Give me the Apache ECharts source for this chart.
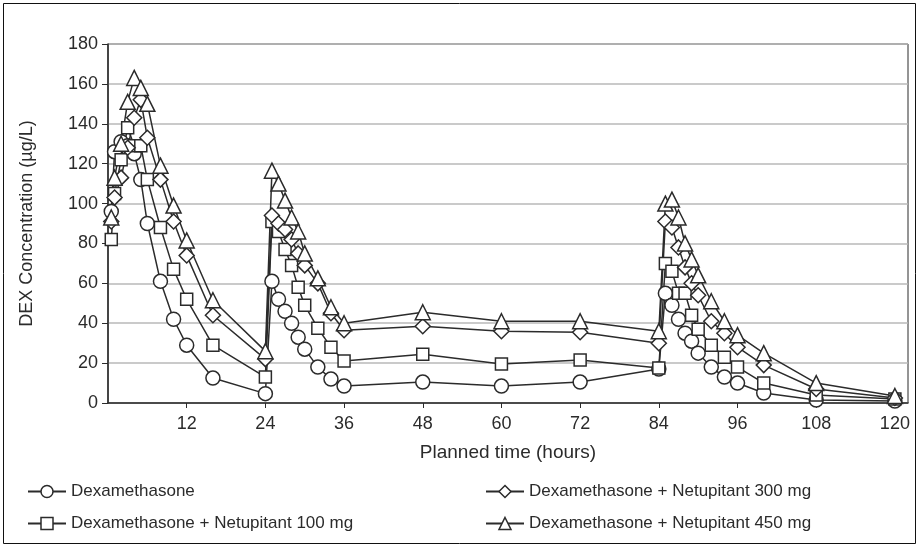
<!DOCTYPE html>
<html>
<head>
<meta charset="utf-8">
<script src="https://cdn.jsdelivr.net/npm/echarts@6/dist/echarts.min.js"></script>
<style>
  html, body { margin: 0; padding: 0; background: #fff; }
  #chart { width: 920px; height: 547px; }
</style>
</head>
<body>
<div id="chart"></div>
<script>
// sampling times (hours)
const hours = [
  0.5, 1, 2, 3, 4, 5, 6, 8, 10, 12, 16, 24,
  25, 26, 27, 28, 29, 30, 32, 34, 36,
  48, 60, 72, 84,
  85, 86, 87, 88, 89, 90, 92, 94, 96, 100, 108, 120
]

// DEX concentration (ug/L)
const dexAlone = [
  96, 126, 131, 129, 125, 112, 90, 61, 42, 29, 12.5, 4.7,
  61, 52, 46, 40, 33, 27, 18, 12, 8.5,
  10.5, 8.5, 10.5, 17,
  55, 49, 42, 35, 31, 25, 18, 13, 10, 5, 1.5, 1
]
const netu100 = [
  82, 105, 122, 138, 129, 129, 112, 88, 67, 52, 29, 13,
  91, 86, 77, 69, 58, 49, 37.5, 28, 21,
  24.5, 19.5, 21.5, 17.5,
  70, 66, 55, 55, 44, 37, 29, 23, 18, 10, 4, 2
]
const netu300 = [
  91, 103, 113, 128, 143, 152, 133, 112, 91, 74, 44, 22,
  94, 90, 87, 82, 75, 69, 60, 45, 36.5,
  38.5, 36, 35.5, 30,
  91, 88, 78, 68, 60, 54, 41, 35, 28, 19, 7, 2.5
]
const netu450 = [
  93, 113, 130, 151, 163, 158, 150, 119, 99, 81.5, 51.5, 26,
  116.5, 110, 101.5, 93, 86, 75, 62.5, 48, 40,
  45.5, 41, 41, 36,
  100, 102, 93, 80, 72, 64, 51, 41, 34, 25, 10, 3.5
]

const seriesNames = [
  'Dexamethasone',
  'Dexamethasone + Netupitant 100 mg',
  'Dexamethasone + Netupitant 300 mg',
  'Dexamethasone + Netupitant 450 mg'
]
const xTicks = [12, 24, 36, 48, 60, 72, 84, 96, 108, 120]

const font = '"Liberation Sans Narrow", "Liberation Sans", Arial, sans-serif'
const ink = '#2b2b2b'

function makeSeries(name, values, symbol, size) {
  return {
    name: name,
    type: 'line',
    data: hours.map((h, i) => [h, values[i]]),
    symbol: symbol,
    symbolSize: size,
    showAllSymbol: true,
    lineStyle: { color: ink, width: 1.5 },
    itemStyle: { color: '#fff', borderColor: ink, borderWidth: 1.5 },
    emphasis: { disabled: true },
    animation: false
  }
}

const chart = echarts.init(document.getElementById('chart'))
chart.setOption({
  animation: false,
  textStyle: { fontFamily: font },
  graphic: [{
    type: 'rect',
    shape: { x: 3.5, y: 3.5, width: 912, height: 540 },
    style: { fill: 'none', stroke: '#111', lineWidth: 1 },
    silent: true
  }],
  grid: {
    left: 108, right: 12, top: 44, bottom: 144,
    show: true, borderColor: ink, borderWidth: 1
  },
  legend: [
    {
      orient: 'vertical', left: 22, top: 478, itemGap: 15,
      itemWidth: 38, itemHeight: 15, itemStyle: { borderWidth: 1.5 },
      textStyle: { fontSize: 17, color: ink, fontFamily: font },
      data: [seriesNames[0], seriesNames[1]]
    },
    {
      orient: 'vertical', left: 480, top: 478, itemGap: 15,
      itemWidth: 38, itemHeight: 15, itemStyle: { borderWidth: 1.5 },
      textStyle: { fontSize: 17, color: ink, fontFamily: font },
      data: [seriesNames[2], seriesNames[3]]
    }
  ],
  xAxis: {
    type: 'value', min: 0, max: 122,
    name: 'Planned time (hours)', nameLocation: 'middle', nameGap: 40,
    nameTextStyle: { fontSize: 19, color: ink },
    axisLine: { lineStyle: { color: ink, width: 1.5 } },
    axisTick: { show: true, length: 5, lineStyle: { color: ink }, customValues: xTicks },
    axisLabel: { fontSize: 18, color: ink, margin: 12, customValues: xTicks },
    splitLine: { show: false }
  },
  yAxis: {
    type: 'value', min: 0, max: 180, interval: 20,
    name: 'DEX Concentration (µg/L)', nameLocation: 'middle', nameGap: 72,
    nameTextStyle: { fontSize: 18, color: ink },
    axisLine: { show: true, lineStyle: { color: ink, width: 1.5 } },
    axisTick: { show: true, length: 6, lineStyle: { color: ink } },
    axisLabel: { fontSize: 18, color: ink, margin: 10 },
    splitLine: { lineStyle: { color: '#b8b8b8', width: 1.5 } }
  },
  series: [
    makeSeries(seriesNames[0], dexAlone, 'circle', 14),
    makeSeries(seriesNames[1], netu100, 'rect', 12),
    makeSeries(seriesNames[2], netu300, 'diamond', 15),
    makeSeries(seriesNames[3], netu450, 'triangle', 15)
  ]
})
</script>
</body>
</html>
